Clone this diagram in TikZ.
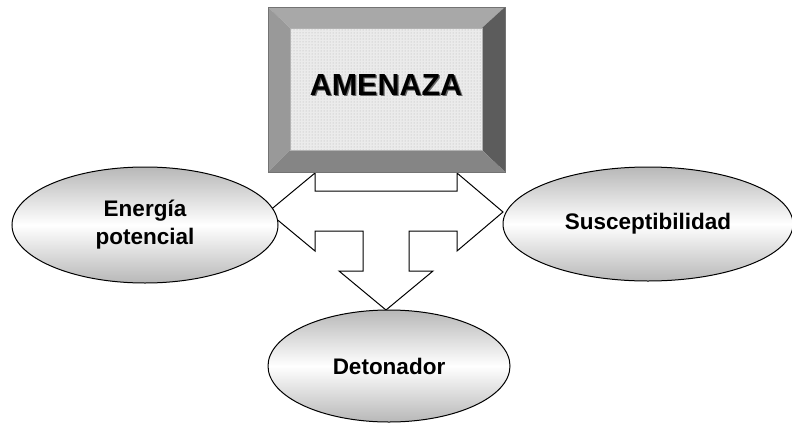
\documentclass[tikz,border=0pt]{standalone}
\usepackage{fontspec}
\setmainfont{Liberation Sans}
\usetikzlibrary{shapes.geometric,patterns}

\tikzset{
  bubble/.style={ellipse, draw, line width=1pt, top color=black!28,
    bottom color=black!28, middle color=white, align=center, inner sep=0pt,
    font=\bfseries\fontsize{22.5}{28}\selectfont},
  blockarrow/.style={draw, line width=1pt, fill=white, line join=miter},
  title/.style={font=\bfseries\fontsize{30.5}{36}\selectfont, inner sep=0pt}
}

\begin{document}
\begin{tikzpicture}[x=1pt,y=-1pt]
  \useasboundingbox (0,0) rectangle (792,423);

  % three-way block arrow
  \draw[blockarrow] (268,212) -- (315,173) -- (315,191) -- (457,191)
    -- (457,173) -- (503,212) -- (457,251) -- (457,231) -- (409,231)
    -- (409,271) -- (433,271) -- (386,310) -- (339,271) -- (363,271)
    -- (363,231) -- (315,231) -- (315,251) -- cycle;

  \node[bubble, minimum width=266pt, minimum height=116pt] (energia)
    at (145,225) {Energía\\potencial};
  \node[bubble, minimum width=290pt, minimum height=114pt] (suscept)
    at (648,224) {Susceptibilidad};
  \node[bubble, minimum width=242pt, minimum height=112pt] (detonador)
    at (389,366) {Detonador};

  % bevelled box
  \fill[black!34] (268,7) -- (505,7) -- (482,28) -- (290,28) -- cycle;
  \fill[black!40] (268,7) -- (290,28) -- (290,150) -- (268,172) -- cycle;
  \fill[black!64] (505,7) -- (505,172) -- (482,150) -- (482,28) -- cycle;
  \fill[black!48] (268,172) -- (290,150) -- (482,150) -- (505,172) -- cycle;
  \fill[black!8] (290,28) rectangle (482,150);
  \fill[pattern=dots, pattern color=black!30] (290,28) rectangle (482,150);
  \draw[black!55, line width=0.6pt] (268,7) rectangle (505,172);
  \draw[black!30, line width=0.5pt] (290,28) rectangle (482,150);

  \node[title, text=black!60] at (387.3,86.3) {AMENAZA};
  \node[title] (amenaza) at (386,85) {AMENAZA};
\end{tikzpicture}
\end{document}
